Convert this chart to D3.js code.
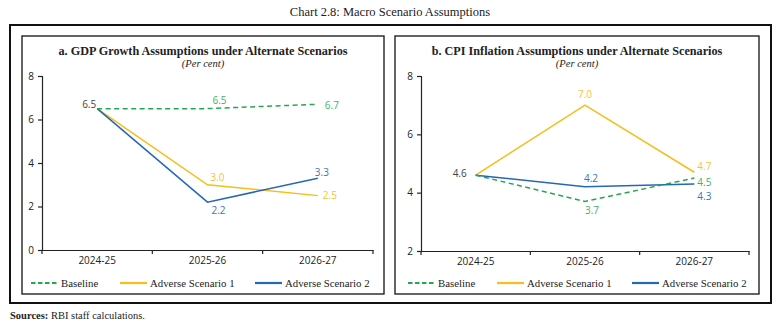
<!DOCTYPE html>
<html>
<head>
<meta charset="utf-8">
<script src="https://cdn.jsdelivr.net/npm/d3@7"></script>
<style>
  body { margin: 0; background: #fff; }
  svg text { fill: #222; }
  .serif { font-family: "Liberation Serif", "DejaVu Serif", serif; }
  .sans { font-family: "Open Sans", "Noto Sans", sans-serif; }
</style>
</head>
<body>
<script>
// data
var years = ["2024-25", "2025-26", "2026-27"];
var seriesNames = ["Baseline", "Adverse Scenario 1", "Adverse Scenario 2"];
var gdpBaseline = [6.5, 6.5, 6.7];
var gdpAdverse1 = [6.5, 3.0, 2.5];
var gdpAdverse2 = [6.5, 2.2, 3.3];
var cpiBaseline = [4.6, 3.7, 4.5];
var cpiAdverse1 = [4.6, 7.0, 4.7];
var cpiAdverse2 = [4.6, 4.2, 4.3];
var gdpTicks = [0, 2, 4, 6, 8];
var cpiTicks = [2, 4, 6, 8];

var colors = ["#23a84f", "#f7bd1a", "#2468b4"];
var labelColors = ["#3cb460", "#f7bf3a", "#3d74b8"];

var svg = d3.select("body").append("svg")
  .attr("width", 779).attr("height", 330);

svg.append("text").attr("class", "serif")
  .attr("x", 390).attr("y", 16).attr("text-anchor", "middle")
  .style("font-size", "12.5px")
  .text("Chart 2.8: Macro Scenario Assumptions");

svg.append("rect").attr("x", 10).attr("y", 25).attr("width", 761).attr("height", 278)
  .attr("fill", "none").attr("stroke", "#111").attr("stroke-width", 2);

var src = svg.append("text").attr("class", "serif")
  .attr("x", 10).attr("y", 319).style("font-size", "10.5px");
src.append("tspan").style("font-weight", "bold").text("Sources: ");
src.append("tspan").text("RBI staff calculations.");

function drawPanel(opt) {
  var g = svg.append("g");
  g.append("rect").attr("x", opt.box[0]).attr("y", 36)
    .attr("width", opt.box[1] - opt.box[0]).attr("height", 258)
    .attr("fill", "none").attr("stroke", "#111").attr("stroke-width", 1.3);

  var cx = (opt.box[0] + opt.box[1]) / 2;
  g.append("text").attr("class", "serif")
    .attr("x", cx).attr("y", 55).attr("text-anchor", "middle")
    .style("font-size", "12.2px").style("font-weight", "bold").text(opt.title);
  g.append("text").attr("class", "serif")
    .attr("x", cx).attr("y", 67).attr("text-anchor", "middle")
    .style("font-size", "10.5px").style("font-style", "italic").text("(Per cent)");

  var x = d3.scaleBand().domain(years).range(opt.xr);
  var y = d3.scaleLinear().domain(opt.yd).range([opt.yb, 76]);

  var yAxis = g.append("g").attr("transform", "translate(" + opt.xr[0] + ",0)")
    .call(d3.axisLeft(y).tickValues(opt.ticks).tickSize(4).tickPadding(4).tickFormat(d3.format("d")));
  var xAxis = g.append("g").attr("transform", "translate(0," + opt.yb + ")")
    .call(d3.axisBottom(x).tickSize(0).tickPadding(7));
  [yAxis, xAxis].forEach(function (a) {
    a.selectAll("path, line").attr("stroke", "#222").attr("stroke-width", 1.2);
    a.selectAll("text").attr("class", "sans").style("font-size", "10px").attr("fill", "#222");
  });
  // category boundary ticks
  g.selectAll(".bt").data(d3.range(years.length + 1)).enter().append("line")
    .attr("x1", function (i) { return opt.xr[0] + i * x.step(); })
    .attr("x2", function (i) { return opt.xr[0] + i * x.step(); })
    .attr("y1", opt.yb).attr("y2", opt.yb + 4)
    .attr("stroke", "#222").attr("stroke-width", 1.2);

  var line = d3.line()
    .x(function (d, i) { return x(years[i]) + x.bandwidth() / 2; })
    .y(function (d) { return y(d); });

  // adverse lines first, baseline on top
  [1, 2, 0].forEach(function (k) {
    g.append("path").datum(opt.series[k]).attr("d", line)
      .attr("fill", "none").attr("stroke", colors[k]).attr("stroke-width", 1.5)
      .attr("stroke-dasharray", k === 0 ? "5,3.5" : null);
  });

  // value labels; the shared first point is labelled once in dark grey
  opt.series.forEach(function (vals, k) {
    vals.forEach(function (v, i) {
      if (i === 0 && k > 0) return;
      var o = i === 0 ? opt.firstOff : opt.offsets[k][i - 1];
      g.append("text").attr("class", "sans")
        .attr("x", x(years[i]) + x.bandwidth() / 2 + o[0])
        .attr("y", y(v) + o[1])
        .attr("text-anchor", "middle")
        .style("font-size", "10px")
        .style("fill", i === 0 ? "#444" : labelColors[k])
        .text(d3.format(".1f")(v));
    });
  });

  // legend
  seriesNames.forEach(function (n, k) {
    var lx = opt.legend[k];
    g.append("line").attr("x1", lx).attr("x2", lx + 27).attr("y1", 283).attr("y2", 283)
      .attr("stroke", colors[k]).attr("stroke-width", 2.2)
      .attr("stroke-dasharray", k === 0 ? "4.5,2.5" : null);
    g.append("text").attr("class", "serif").attr("x", lx + 30).attr("y", 286.5)
      .style("font-size", "10.8px").text(n);
  });
}

drawPanel({
  box: [22, 384], xr: [42, 373], yd: [0, 8], yb: 250, ticks: gdpTicks,
  title: "a. GDP Growth Assumptions under Alternate Scenarios",
  series: [gdpBaseline, gdpAdverse1, gdpAdverse2],
  firstOff: [-8, -1],
  offsets: [[[12, -5], [14, 5]], [[10, -4], [12, 3]], [[11, 12], [4, -2]]],
  legend: [31, 120, 255]
});

drawPanel({
  box: [395, 759], xr: [421, 749], yd: [2, 8], yb: 251, ticks: cpiTicks,
  title: "b. CPI Inflation Assumptions under Alternate Scenarios",
  series: [cpiBaseline, cpiAdverse1, cpiAdverse2],
  firstOff: [-16, 2],
  offsets: [[[7, 13], [10, 7.5]], [[0, -7], [10, -2.5]], [[6, -5], [10, 16]]],
  legend: [408, 497, 632]
});
</script>
</body>
</html>
